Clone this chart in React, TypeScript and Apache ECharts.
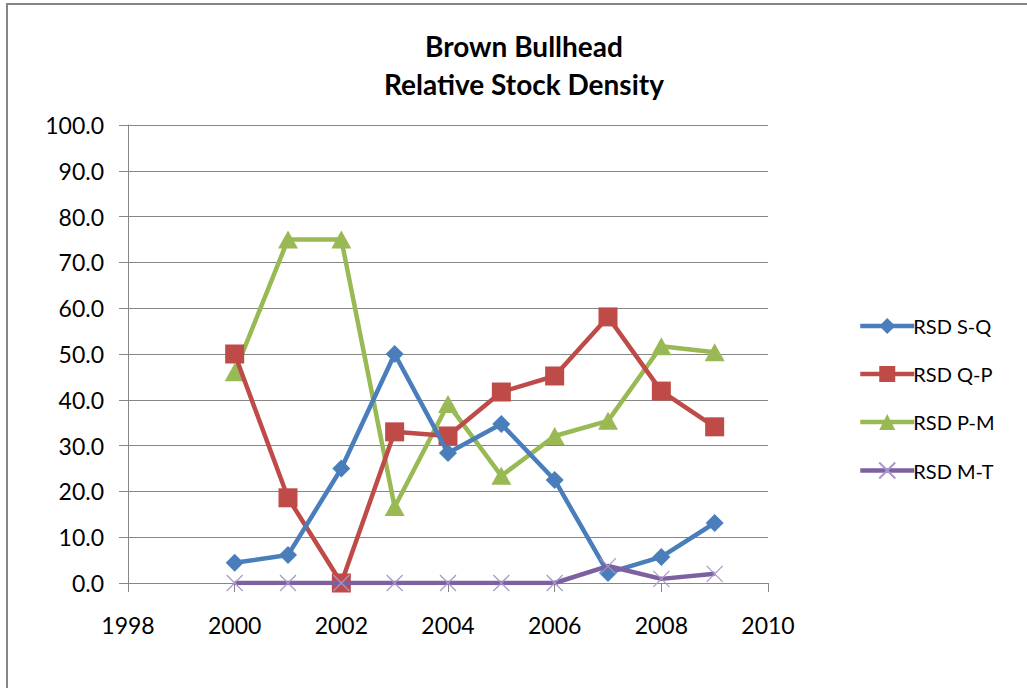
import React, { useEffect, useRef } from "react";
import * as echarts from "echarts";

const years = [2000, 2001, 2002, 2003, 2004, 2005, 2006, 2007, 2008, 2009];
const rsdSQ = [4.4, 6.1, 25.0, 50.0, 28.4, 34.7, 22.5, 2.2, 5.7, 13.1];
const rsdQP = [50.0, 18.6, 0.0, 33.0, 32.1, 41.7, 45.2, 58.1, 41.9, 34.1];
const rsdPM = [46.0, 75.0, 75.0, 16.6, 39.1, 23.4, 32.1, 35.4, 51.7, 50.4];
const rsdMT = [0, 0, 0, 0, 0, 0, 0, 3.7, 0.9, 2.0];

const seriesNames = ["RSD S-Q", "RSD Q-P", "RSD P-M", "RSD M-T"];
const titleLines = ["Brown Bullhead", "Relative Stock Density"];

const FONT = "Lato, 'Open Sans', sans-serif";
const crossPath = "path://M0,0 L10,10 M10,0 L0,10";

const pairs = (vals: number[]) => years.map((y, i) => [y, vals[i]]);

export default function App() {
  const ref = useRef<HTMLDivElement>(null);

  useEffect(() => {
    document.body.style.margin = "0";
    const chart = echarts.init(ref.current!, null, { renderer: "svg" });
    const lineWidth = 4.5;
    chart.setOption({
      animation: false,
      backgroundColor: "#ffffff",
      title: {
        text: titleLines.join("\n"),
        left: 519,
        top: 22,
        textAlign: "center",
        textStyle: {
          fontFamily: FONT,
          fontWeight: "bold",
          fontSize: 28,
          lineHeight: 38,
          color: "#000",
        },
      },
      graphic: [
        {
          type: "rect",
          shape: { x: 7, y: 4, width: 1040, height: 700 },
          style: { fill: "none", stroke: "#868686", lineWidth: 2 },
          silent: true,
        },
      ],
      legend: {
        orient: "vertical",
        left: 853,
        top: 311,
        itemWidth: 54,
        itemHeight: 20,
        itemGap: 28,
        lineStyle: { width: 4.5 },
        textStyle: { fontFamily: FONT, fontSize: 20, color: "#000", padding: [0, 0, 0, -6] },
        data: seriesNames,
      },
      grid: { left: 128, right: 259, top: 125, bottom: 105 },
      xAxis: {
        type: "value",
        min: 1998,
        max: 2010,
        interval: 2,
        axisLine: { show: true, onZero: false, lineStyle: { color: "#868686", width: 1 } },
        axisTick: { show: true, inside: false, length: 9, lineStyle: { color: "#868686" } },
        axisLabel: {
          margin: 30,
          fontFamily: FONT,
          fontSize: 23,
          color: "#000",
          formatter: (v: number) => String(v),
        },
        splitLine: { show: false },
      },
      yAxis: {
        type: "value",
        min: 0,
        max: 100,
        interval: 10,
        axisLine: { show: true, lineStyle: { color: "#868686", width: 1 } },
        axisTick: { show: true, inside: false, length: 9, lineStyle: { color: "#868686" } },
        axisLabel: {
          margin: 24,
          fontFamily: FONT,
          fontSize: 23,
          color: "#000",
          formatter: (v: number) => v.toFixed(1),
        },
        splitLine: { show: true, lineStyle: { color: "#868686", width: 1 } },
      },
      series: [
        {
          name: seriesNames[0],
          type: "line",
          data: pairs(rsdSQ),
          symbol: "diamond",
          symbolSize: [18, 18],
          color: "#4a7ebb",
          lineStyle: { width: lineWidth, color: "#4a7ebb" },
          itemStyle: { color: "#4a7ebb" },
          z: 4,
        },
        {
          name: seriesNames[1],
          type: "line",
          data: pairs(rsdQP),
          symbol: "rect",
          symbolSize: 19,
          color: "#be4b48",
          lineStyle: { width: lineWidth, color: "#be4b48" },
          itemStyle: { color: "#be4b48" },
          z: 3,
        },
        {
          name: seriesNames[2],
          type: "line",
          data: pairs(rsdPM),
          symbol: "triangle",
          symbolSize: [20, 18],
          color: "#98b954",
          lineStyle: { width: lineWidth, color: "#98b954" },
          itemStyle: { color: "#98b954" },
          z: 2,
        },
        {
          name: seriesNames[3],
          type: "line",
          data: pairs(rsdMT),
          symbol: crossPath,
          symbolSize: 16,
          color: "#7d60a0",
          lineStyle: { width: lineWidth, color: "#7d60a0" },
          itemStyle: { color: "none", borderColor: "#a996c9", borderWidth: 1.2 },
          z: 5,
        },
      ],
    });
    return () => chart.dispose();
  }, []);

  return <div ref={ref} style={{ width: 1027, height: 688 }} />;
}
